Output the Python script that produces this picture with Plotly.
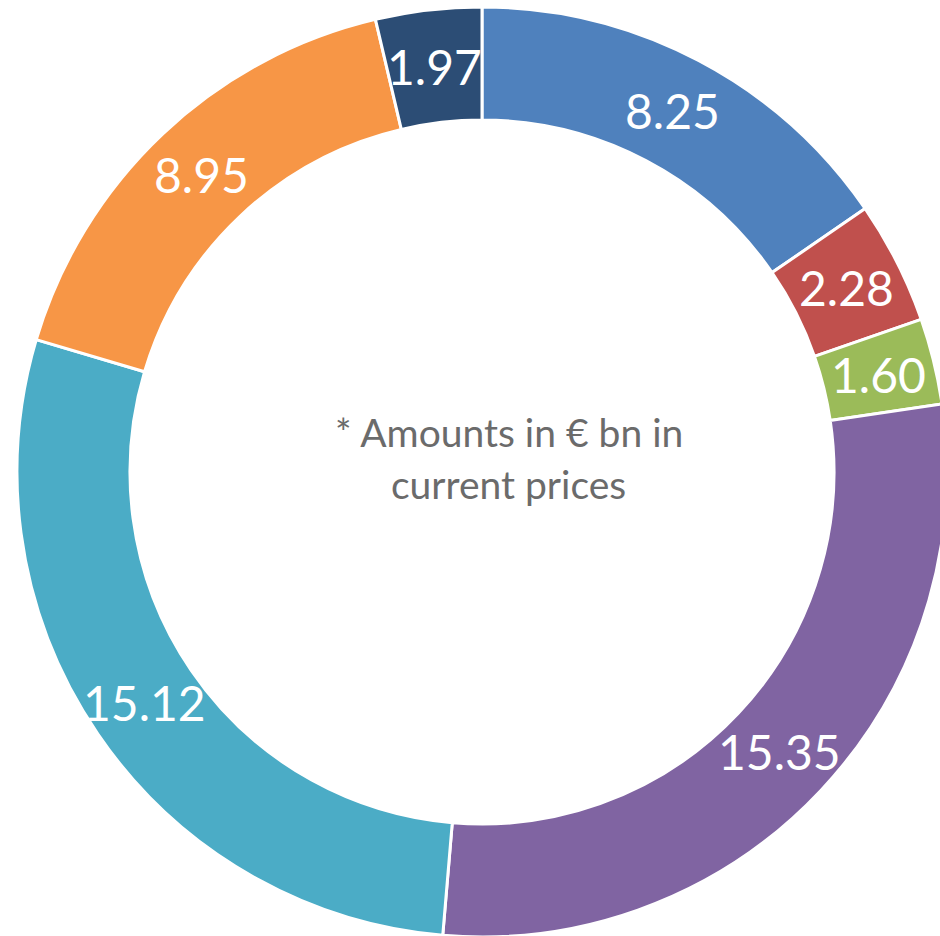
import math
import plotly.graph_objects as go

values = [8.25, 2.28, 1.60, 15.35, 15.12, 8.95, 1.97]
labels = ["A", "B", "C", "D", "E", "F", "G"]
text_labels = ["8.25", "2.28", "1.60", "15.35", "15.12", "8.95", "1.97"]
colors = ["#4F81BD", "#C0504D", "#9BBB59", "#8064A2", "#4BACC6", "#F79646", "#2C4D75"]

W, H = 950, 940
cx, cy, r = 482, 472, 465
hole = 0.757

fig = go.Figure(go.Pie(
    values=values,
    labels=labels,
    textinfo="none",
    marker=dict(colors=colors, line=dict(color="white", width=3)),
    sort=False,
    direction="clockwise",
    rotation=0,
    hole=hole,
    showlegend=False,
    hoverinfo="label+value",
    domain=dict(x=[(cx - r) / W, (cx + r) / W], y=[1 - (cy + r) / H, 1 - (cy - r) / H]),
))

# value labels placed at the middle of each ring segment (derived from values)
total = sum(values)
rm = r * (1 + hole) / 2
cum = 0.0
for v, t in zip(values, text_labels):
    mid = (cum + v / 2) / total * 2 * math.pi
    cum += v
    px = cx + rm * math.sin(mid)
    py = cy - rm * math.cos(mid)
    fig.add_annotation(x=px / W, y=1 - py / H, xref="paper", yref="paper",
                       xanchor="center", yanchor="middle",
                       text=t, showarrow=False,
                       font=dict(family="Lato", size=48, color="white"))

fig.add_annotation(x=509 / W, y=1 - 432 / H, xref="paper", yref="paper",
                   xanchor="center", yanchor="middle",
                   text="* Amounts in € bn in", showarrow=False,
                   font=dict(family="Lato", size=39, color="#6b6b6b"))
fig.add_annotation(x=509 / W, y=1 - 484 / H, xref="paper", yref="paper",
                   xanchor="center", yanchor="middle",
                   text="current prices", showarrow=False,
                   font=dict(family="Lato", size=39, color="#6b6b6b"))

fig.update_layout(width=W, height=H, margin=dict(l=0, r=0, t=0, b=0),
                  paper_bgcolor="white", plot_bgcolor="white")

fig.write_html("out.html",
               post_script="document.documentElement.style.overflow='hidden';document.body.style.overflow='hidden';")
